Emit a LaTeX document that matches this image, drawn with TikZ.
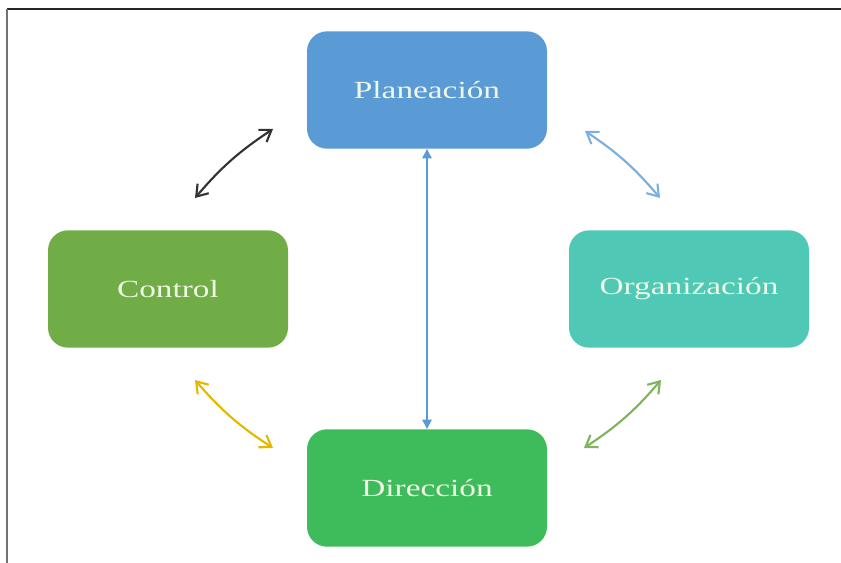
\documentclass[tikz,border=0pt]{standalone}
\usepackage{fontspec}
\newfontfamily\boxfont[FakeStretch=1.35]{Liberation Serif}
\usetikzlibrary{arrows.meta}
\definecolor{planblue}{HTML}{5B9BD5}
\definecolor{ctrlgreen}{HTML}{70AD47}
\definecolor{orgteal}{HTML}{4FC9B5}
\definecolor{dirgreen}{HTML}{3EBB5B}
\definecolor{boxtext}{HTML}{EEF6E4}

\begin{document}
\begin{tikzpicture}[
  x=0.75pt, y=-0.75pt,
  stage/.style={rounded corners=15pt, minimum width=180pt, minimum height=88pt,
                inner sep=0pt, text=boxtext, font=\boxfont\fontsize{18.5}{20}\selectfont},
  cycle/.style={{Straight Barb[length=8pt,width=11pt]}-{Straight Barb[length=8pt,width=11pt]},
                line width=1.6pt},
  axis/.style={{Triangle[length=7pt,width=7pt]}-{Triangle[length=7pt,width=7pt]},
               line width=0.9pt, planblue},
]
  \useasboundingbox (0,0) rectangle (841,563);
  % frame
  \draw[line width=1.8pt, black!85] (7,9) -- (841,9);
  \draw[line width=1.8pt, black!55] (7,9) -- (7,563);

  \node[stage, fill=planblue]  (plan) at (427,90)  {Planeación};
  \node[stage, fill=ctrlgreen] (ctrl) at (168,289) {Control};
  \node[stage, fill=orgteal]   (org)  at (689,289) {Organización};
  \node[stage, fill=dirgreen]  (dir)  at (427,488) {Dirección};

  \coordinate (cpA) at (195,198);
  \coordinate (cpB) at (273,129);
  \coordinate (poA) at (585,131);
  \coordinate (poB) at (660,198);
  \coordinate (cdA) at (195,380);
  \coordinate (cdB) at (273,448);
  \coordinate (odA) at (584,448);
  \coordinate (odB) at (661,380);

  \draw[axis] (plan) -- (dir);
  \draw[cycle, black!80] (cpA) to[bend left=8] (cpB);
  \draw[cycle, planblue!80] (poA) to[bend left=8] (poB);
  \draw[cycle, orange!40!yellow!90!black] (cdA) to[bend right=8] (cdB);
  \draw[cycle, ctrlgreen!90] (odA) to[bend right=8] (odB);
\end{tikzpicture}
\end{document}
